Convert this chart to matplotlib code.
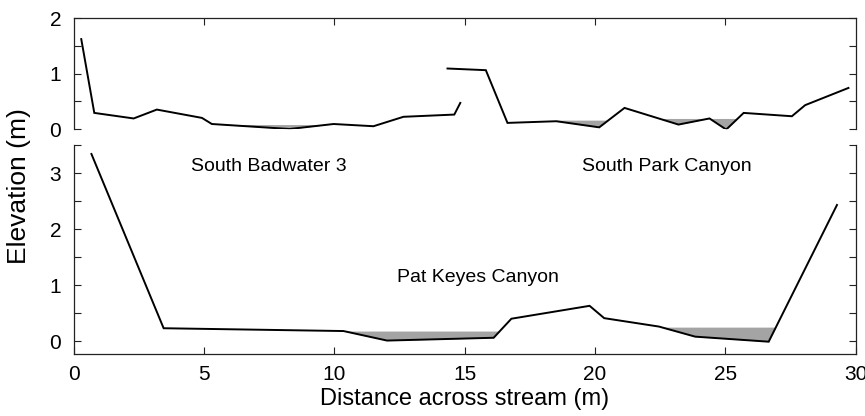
import matplotlib
matplotlib.use("Agg")
import matplotlib.pyplot as plt
import numpy as np

plt.rcParams['font.family'] = ['Liberation Sans', 'DejaVu Sans']

# cross-stream profiles (distance m, elevation m)
badwater_x = [0.29, 0.79, 2.30, 3.19, 4.92, 5.30, 8.28, 9.97, 11.50, 12.65, 14.60, 14.83]
badwater_y = [1.62, 0.29, 0.19, 0.35, 0.20, 0.09, 0.00, 0.09, 0.05, 0.22, 0.26, 0.47]

park_x = [14.34, 15.81, 16.64, 18.51, 20.16, 21.13, 23.20, 24.39, 25.03, 25.70, 27.55, 28.06, 29.72]
park_y = [1.09, 1.06, 0.11, 0.14, 0.03, 0.38, 0.08, 0.19, -0.01, 0.29, 0.23, 0.43, 0.74]

keyes_x = [0.68, 3.45, 10.35, 12.02, 16.11, 16.79, 19.79, 20.35, 22.45, 23.84, 26.66, 29.28]
keyes_y = [3.34, 0.23, 0.18, 0.01, 0.06, 0.40, 0.63, 0.41, 0.26, 0.08, -0.01, 2.43]

# water pools: (from x, to x, water level)
badwater_pools = [(5.30, 9.97, 0.08)]
park_pools = [(18.51, 21.13, 0.16), (21.13, 25.70, 0.19)]
keyes_pools = [(10.35, 16.79, 0.18), (20.35, 29.28, 0.25)]

labels = ["South Badwater 3", "South Park Canyon", "Pat Keyes Canyon"]


def draw_profile(ax, xs, ys, pools):
    xs = np.array(xs)
    ys = np.array(ys)
    for x0, x1, level in pools:
        m = (xs >= x0) & (xs <= x1)
        px, py = xs[m], ys[m]
        ax.fill_between(px, py, level, where=py <= level, interpolate=True,
                        color="#a4a4a4", lw=0)
    ax.plot(xs, ys, color="black", lw=1.4, solid_joinstyle="miter")


def style(ax):
    ax.set_xlim(0, 30)
    ax.tick_params(which="both", direction="in", length=5, width=0.8,
                   labelsize=15, color="#222222")
    for s in ax.spines.values():
        s.set_linewidth(0.9)
        s.set_color("#222222")


fig = plt.figure(figsize=(8.65, 4.16), dpi=100)
ax1 = fig.add_axes([0.0852, 0.6899, 0.9041, 0.2668])
ax2 = fig.add_axes([0.0852, 0.1490, 0.9041, 0.5024])

draw_profile(ax1, badwater_x, badwater_y, badwater_pools)
draw_profile(ax1, park_x, park_y, park_pools)
draw_profile(ax2, keyes_x, keyes_y, keyes_pools)

# top panel
style(ax1)
ax1.set_ylim(0, 2)
ax1.spines["bottom"].set_visible(False)
ax1.set_yticks([0, 1, 2])
ax1.set_yticks([0.5, 1.5], minor=True)
ax1.set_xticks([5, 10, 15, 20, 25])
ax1.tick_params(axis="x", which="both", bottom=False, top=True,
                labelbottom=False, labeltop=False)
ax1.tick_params(axis="y", which="both", left=True, right=True, pad=9)

# bottom panel
style(ax2)
ax2.set_ylim(-0.23, 3.5)
ax2.spines["top"].set_visible(False)
ax2.set_yticks([0, 1, 2, 3])
ax2.set_yticks([0.5, 1.5, 2.5, 3.5], minor=True)
ax2.set_xticks([0, 5, 10, 15, 20, 25, 30])
ax2.tick_params(axis="x", which="both", top=False, pad=8)
ax2.tick_params(axis="y", which="both", left=True, right=True, pad=9)
ax2.set_xlabel("Distance across stream (m)", fontsize=17, labelpad=3)

ax2.text(7.49, 3.03, labels[0], fontsize=14, ha="center", va="baseline")
ax2.text(22.75, 3.03, labels[1], fontsize=14, ha="center", va="baseline")
ax2.text(15.51, 1.06, labels[2], fontsize=14, ha="center", va="baseline")

fig.text(19 / 865, 1 - 186 / 416, "Elevation (m)", rotation=90,
         fontsize=19, ha="center", va="center")

fig.savefig("out.png", dpi=100)
